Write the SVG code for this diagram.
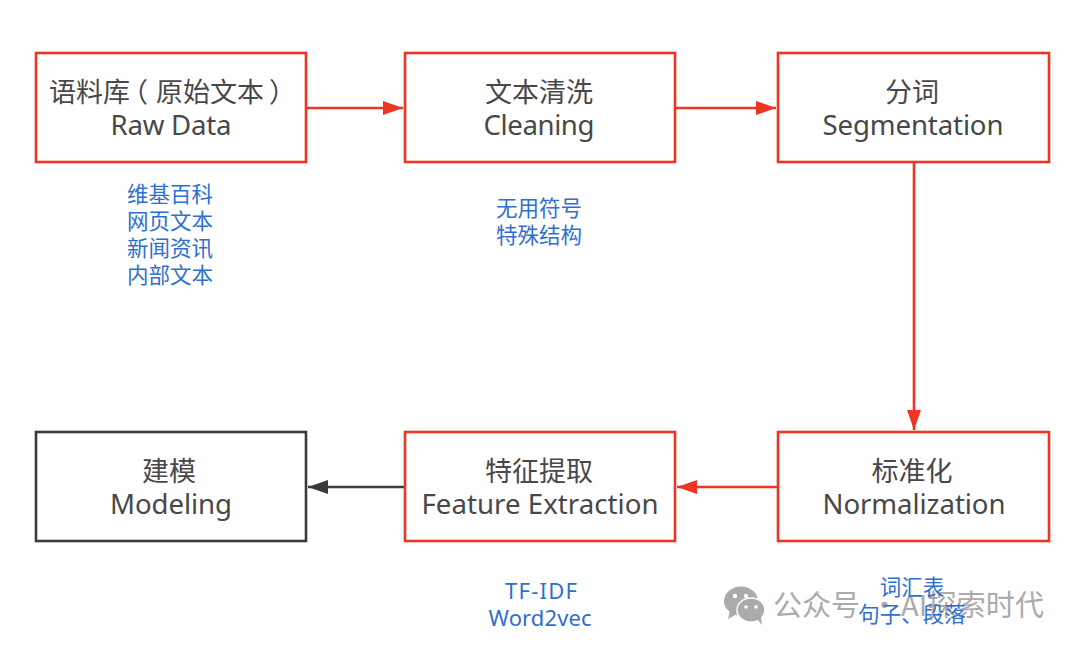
<svg xmlns="http://www.w3.org/2000/svg" width="1080" height="650" viewBox="0 0 1080 650">
<style>
text{font-family:"Noto Sans","Noto Sans CJK SC",sans-serif;text-anchor:middle}
.box{fill:#fff;stroke:#ee3524;stroke-width:2.6}
.dark{stroke:#3a3a3a}
.t{font-size:27.6px;fill:#484848}
.l{font-family:"Noto Sans CJK SC","Noto Sans",sans-serif;font-size:27px;fill:#484848}
.n{font-family:"Noto Sans CJK SC","Noto Sans",sans-serif;font-size:21.5px;fill:#2f6fd0}
.e{font-size:22px;fill:#2f6fd0}
.c{fill:none;stroke:#ee3524;stroke-width:2.6}
.wm{font-family:"Noto Sans CJK SC",sans-serif;font-size:29px;fill:#ababab;text-anchor:start}
</style>
<defs>
<marker id="ar" markerUnits="userSpaceOnUse" markerWidth="22" markerHeight="16" refX="20" refY="8" orient="auto"><path d="M0 1 L20 8 L0 15 Z" fill="#ee3524"/></marker>
<marker id="ad" markerUnits="userSpaceOnUse" markerWidth="22" markerHeight="16" refX="20" refY="8" orient="auto"><path d="M0 1 L20 8 L0 15 Z" fill="#3a3a3a"/></marker>
</defs>
<rect width="1080" height="650" fill="#fff"/>
<g id="connectors">
<path class="c" d="M306 108H403" marker-end="url(#ar)"/>
<path class="c" d="M675 108H776" marker-end="url(#ar)"/>
<path class="c" d="M914 162V430" marker-end="url(#ar)"/>
<path class="c" d="M778 487H677" marker-end="url(#ar)"/>
<path class="c" style="stroke:#3a3a3a" d="M405 487H308" marker-end="url(#ad)"/>
</g>
<g id="node-raw"><rect class="box" x="36" y="53" width="270" height="109"/><text class="l" style="text-anchor:start" x="49 76 103 121 156 183 210 237 269" y="102">语料库（原始文本）</text><text class="t" x="171" y="135" textLength="121">Raw Data</text></g>
<g id="node-clean"><rect class="box" x="405" y="53" width="270" height="109"/><text class="l" x="539" y="102">文本清洗</text><text class="t" x="539" y="135" textLength="111">Cleaning</text></g>
<g id="node-seg"><rect class="box" x="778" y="53" width="271" height="109"/><text class="l" x="912" y="102">分词</text><text class="t" x="913" y="135" textLength="181">Segmentation</text></g>
<g id="node-norm"><rect class="box" x="778" y="432" width="271" height="109"/><text class="l" x="912" y="481">标准化</text><text class="t" x="914" y="514" textLength="183">Normalization</text></g>
<g id="node-feat"><rect class="box" x="405" y="432" width="270" height="109"/><text class="l" x="539" y="481">特征提取</text><text class="t" x="540" y="514" textLength="237">Feature Extraction</text></g>
<g id="node-model"><rect class="box dark" x="36" y="432" width="270" height="109"/><text class="l" x="169" y="481">建模</text><text class="t" x="171" y="514" textLength="122">Modeling</text></g>
<g id="note-raw"><text class="n" x="170" y="202">维基百科</text><text class="n" x="170" y="229">网页文本</text><text class="n" x="170" y="256">新闻资讯</text><text class="n" x="170" y="283">内部文本</text></g>
<g id="note-clean"><text class="n" x="539" y="216">无用符号</text><text class="n" x="539" y="243">特殊结构</text></g>
<g id="note-feat"><text class="e" x="541" y="599" textLength="72">TF-IDF</text><text class="e" x="540" y="626" textLength="103">Word2vec</text></g>
<g id="watermark">
<ellipse cx="741" cy="601" rx="17" ry="14.5" fill="#ababab"/><path d="M730 611l-2 8 9-5z" fill="#ababab"/>
<ellipse cx="751" cy="610" rx="14" ry="12" fill="#ababab" stroke="#fff" stroke-width="1.5"/><path d="M757 619l5 6-1-8z" fill="#ababab"/>
<circle cx="735" cy="596" r="2.2" fill="#fff"/><circle cx="746" cy="596" r="2.2" fill="#fff"/><circle cx="746" cy="607" r="1.8" fill="#fff"/><circle cx="756" cy="607" r="1.8" fill="#fff"/>
<text class="wm" x="773" y="616">公众号</text><text class="wm" x="870" y="616">·</text><text class="wm" x="901" y="616" textLength="143">AI探索时代</text>
</g>
<g id="note-norm"><text class="n" x="912" y="595">词汇表</text><text class="n" x="912" y="622">句子、段落</text></g>
</svg>
